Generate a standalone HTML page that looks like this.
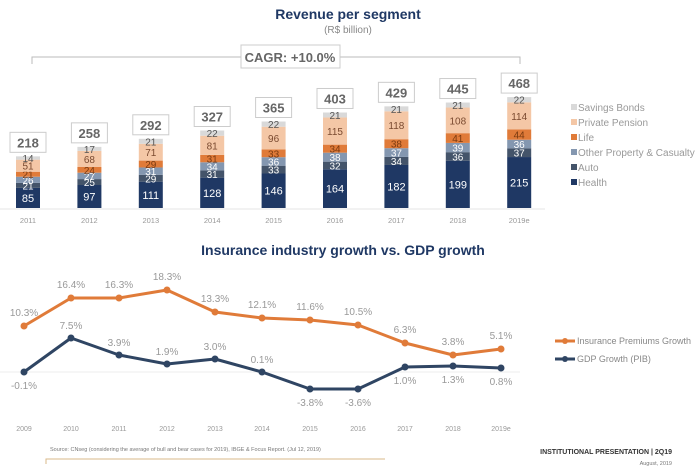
<!DOCTYPE html>
<html><head><meta charset="utf-8"><style>
html,body{margin:0;padding:0;background:#fff;}
svg{display:block;font-family:"Liberation Sans",sans-serif;}
</style></head><body>
<svg width="700" height="471" viewBox="0 0 700 471">
<text x="348" y="19" text-anchor="middle" font-size="14" font-weight="bold" fill="#1f3864">Revenue per segment</text>
<text x="348" y="33" text-anchor="middle" font-size="10" fill="#888">(R$ billion)</text>
<polyline points="32,64 32,57 241,57" fill="none" stroke="#bbb" stroke-width="1"/>
<polyline points="340,57 520,57 520,64" fill="none" stroke="#bbb" stroke-width="1"/>
<rect x="241" y="45" width="99" height="23" fill="#fff" stroke="#ccc"/>
<text x="290" y="62" text-anchor="middle" font-size="13" font-weight="bold" fill="#666">CAGR: +10.0%</text>
<line x1="0" y1="209" x2="545" y2="209" stroke="#e5e5e5"/>
<g id="bars"></g>
<g font-size="10" fill="#999">
<rect x="571" y="104" width="6" height="6" fill="#d9d9d9"/><text x="578" y="111">Savings Bonds</text>
<rect x="571" y="119" width="6" height="6" fill="#f4c7a6"/><text x="578" y="126">Private Pension</text>
<rect x="571" y="134" width="6" height="6" fill="#e07b39"/><text x="578" y="141">Life</text>
<rect x="571" y="149" width="6" height="6" fill="#8497b0"/><text x="578" y="156">Other Property &amp; Casualty</text>
<rect x="571" y="164" width="6" height="6" fill="#44546a"/><text x="578" y="171">Auto</text>
<rect x="571" y="179" width="6" height="6" fill="#1f3864"/><text x="578" y="186">Health</text>
</g>
<text x="343" y="255" text-anchor="middle" font-size="14" font-weight="bold" fill="#1f3864">Insurance industry growth vs. GDP growth</text>
<line x1="0" y1="372" x2="520" y2="372" stroke="#eee"/>
<g id="lines"></g>
<g font-size="9" fill="#888">
<line x1="555" y1="341" x2="575" y2="341" stroke="#e07b39" stroke-width="3"/><circle cx="565" cy="341" r="3" fill="#e07b39"/>
<text x="577" y="344">Insurance Premiums Growth</text>
<line x1="555" y1="359" x2="575" y2="359" stroke="#2f4563" stroke-width="3"/><circle cx="565" cy="359" r="3" fill="#2f4563"/>
<text x="577" y="362">GDP Growth (PIB)</text>
</g>
<text x="50" y="451" font-size="5.5" fill="#777">Source: CNseg (considering the average of bull and bear cases for 2019), IBGE &amp; Focus Report. (Jul 12, 2019)</text>
<polyline points="46,464 46,459 385,459" fill="none" stroke="#d9b88a" stroke-width="1"/>
<text x="672" y="454" text-anchor="end" font-size="7" font-weight="bold" fill="#333">INSTITUTIONAL PRESENTATION | 2Q19</text>
<text x="672" y="465" text-anchor="end" font-size="5.5" fill="#777">August, 2019</text>
</svg>
<script>
var NS="http://www.w3.org/2000/svg";
function el(p,t,a,txt){var e=document.createElementNS(NS,t);for(var k in a)e.setAttribute(k,a[k]);if(txt!=null)e.textContent=txt;p.appendChild(e);return e;}
var years=["2011","2012","2013","2014","2015","2016","2017","2018","2019e"];
var tot=[218,258,292,327,365,403,429,445,468];
var d=[[85,21,26,21,51,14],[97,25,27,24,68,17],[111,29,31,29,71,21],[128,31,34,31,81,22],[146,33,36,33,96,22],[164,32,38,34,115,21],[182,34,37,38,118,21],[199,36,39,41,108,21],[215,37,36,44,114,22]];
var cols=["#1f3864","#44546a","#8497b0","#e07b39","#f4c7a6","#d9d9d9"];
var tc=["#fff","#fff","#fff","#7a3a10","#7a4a30","#555"];
var g=document.getElementById("bars");var s=0.237;
for(var i=0;i<9;i++){var cx=28+i*61.4;var y=208;var sum=d[i].reduce(function(a,b){return a+b},0);var k=tot[i]/sum;
for(var j=0;j<6;j++){var h=d[i][j]*s*k;y-=h;el(g,"rect",{x:cx-12,y:y,width:24,height:h,fill:cols[j]});
el(g,"text",{x:cx,y:y+h/2+4,"text-anchor":"middle","font-size":j==0?11:10,fill:tc[j]},d[i][j]);}
el(g,"rect",{x:cx-18,y:y-24,width:36,height:20,fill:"#fff",stroke:"#ccc"});
el(g,"text",{x:cx,y:y-9,"text-anchor":"middle","font-size":13,"font-weight":"bold",fill:"#666"},tot[i]);
el(g,"text",{x:cx,y:223,"text-anchor":"middle","font-size":7.5,fill:"#999"},years[i]);}
var L=document.getElementById("lines");
var xs=[24,71,119,167,215,262,310,358,405,453,501];
var oy=[326,298,298,290,312,318,320,325,343,355,349];
var by=[372,338,355,364,359,372,389,389,367,366,368];
var ol=["10.3%","16.4%","16.3%","18.3%","13.3%","12.1%","11.6%","10.5%","6.3%","3.8%","5.1%"];
var bl=["-0.1%","7.5%","3.9%","1.9%","3.0%","0.1%","-3.8%","-3.6%","1.0%","1.3%","0.8%"];
var bBelow=[1,0,0,0,0,0,1,1,1,1,1];
var yl=["2009","2010","2011","2012","2013","2014","2015","2016","2017","2018","2019e"];
function pl(ys,c){el(L,"polyline",{points:xs.map(function(x,i){return x+","+ys[i]}).join(" "),fill:"none",stroke:c,"stroke-width":3,"stroke-linejoin":"round"});
xs.forEach(function(x,i){el(L,"circle",{cx:x,cy:ys[i],r:3.5,fill:c});});}
pl(oy,"#e07b39");pl(by,"#2f4563");
for(var i=0;i<11;i++){
el(L,"text",{x:xs[i],y:oy[i]-10,"text-anchor":"middle","font-size":10,fill:"#999"},ol[i]);
el(L,"text",{x:xs[i],y:bBelow[i]?by[i]+17:by[i]-9,"text-anchor":"middle","font-size":10,fill:"#999"},bl[i]);
el(L,"text",{x:xs[i],y:431,"text-anchor":"middle","font-size":7,fill:"#999"},yl[i]);}
</script>
</body></html>
